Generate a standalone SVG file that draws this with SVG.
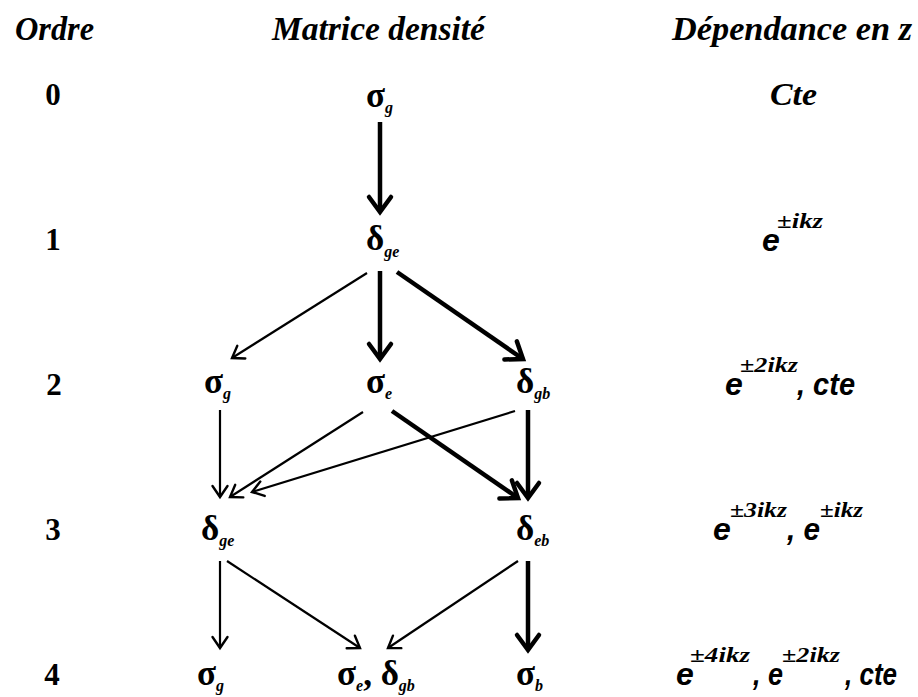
<svg xmlns="http://www.w3.org/2000/svg" width="918" height="697" viewBox="0 0 918 697">
<style>
.title{font-family:"Liberation Serif",serif;font-weight:bold;font-style:italic;font-size:34px;fill:#000}
.ord{font-family:"Liberation Serif",serif;font-weight:bold;font-size:31px;fill:#000}
.gr{font-family:"Liberation Serif",serif;font-weight:bold;font-size:35px;fill:#000}
.sub{font-style:italic;font-size:16px}
.ex{font-family:"Liberation Sans",sans-serif;font-weight:bold;font-style:italic;font-size:32px;fill:#000}
.cte{font-family:"Liberation Serif",serif;font-weight:bold;font-style:italic;font-size:32px;fill:#000}
.sup{font-family:"Liberation Serif",serif;font-weight:bold;font-style:italic;font-size:21px;fill:#000}
.thin{stroke:#000;stroke-width:2.2;fill:none;marker-end:url(#ah)}
.thick{stroke:#000;stroke-width:4.5;fill:none;marker-end:url(#ahb)}
</style>
<defs>
<marker id="ah" markerUnits="userSpaceOnUse" viewBox="-14 -10 16 20" refX="0" refY="0" markerWidth="16" markerHeight="20" orient="auto" overflow="visible"><path d="M-11,-7.5 L0,0 L-11,7.5" fill="none" stroke="#000" stroke-width="2.4" stroke-linecap="round"/></marker>
<marker id="ahb" markerUnits="userSpaceOnUse" viewBox="-18 -13 20 26" refX="0" refY="0" markerWidth="20" markerHeight="26" orient="auto" overflow="visible"><path d="M-15,-11 L0,0 L-15,11" fill="none" stroke="#000" stroke-width="4.5" stroke-linecap="round"/></marker>
</defs>
<rect width="918" height="697" fill="#fff"/>
<g id="headers">
<text class="title" x="15" y="40" textLength="79" lengthAdjust="spacingAndGlyphs">Ordre</text>
<text class="title" x="272" y="40" textLength="213" lengthAdjust="spacingAndGlyphs">Matrice densité</text>
<text class="title" x="672" y="40" textLength="240" lengthAdjust="spacingAndGlyphs">Dépendance en z</text>
</g>
<g id="orders" class="ord" text-anchor="middle">
<text x="53" y="105">0</text>
<text x="53" y="250">1</text>
<text x="54" y="395">2</text>
<text x="53" y="540">3</text>
<text x="52" y="685">4</text>
</g>
<g id="connectors">
<line class="thick" x1="380" y1="122" x2="380" y2="212"/>
<line class="thin" x1="367" y1="273" x2="232" y2="358"/>
<line class="thick" x1="380" y1="271" x2="380" y2="359"/>
<line class="thick" x1="397" y1="272" x2="523" y2="359"/>
<line class="thin" x1="220" y1="410" x2="220" y2="497"/>
<line class="thin" x1="363" y1="412" x2="230" y2="497"/>
<line class="thin" x1="515" y1="411" x2="252" y2="492"/>
<line class="thick" x1="392" y1="411" x2="518" y2="498"/>
<line class="thick" x1="528" y1="410" x2="528" y2="498"/>
<line class="thin" x1="220" y1="561" x2="220" y2="648"/>
<line class="thin" x1="227" y1="561" x2="360" y2="648"/>
<line class="thin" x1="518" y1="561" x2="388" y2="648"/>
<line class="thick" x1="528" y1="561" x2="528" y2="650"/>
</g>
<g id="n0"><text class="gr" x="366" y="107">σ<tspan class="sub" dy="6">g</tspan></text></g>
<g id="n1"><text class="gr" x="366" y="250">δ<tspan class="sub" dy="7">ge</tspan></text></g>
<g id="n2a"><text class="gr" x="204" y="393">σ<tspan class="sub" dy="6">g</tspan></text></g>
<g id="n2b"><text class="gr" x="366" y="393">σ<tspan class="sub" dy="6">e</tspan></text></g>
<g id="n2c"><text class="gr" x="516" y="393">δ<tspan class="sub" dy="6">gb</tspan></text></g>
<g id="n3a"><text class="gr" x="201" y="540">δ<tspan class="sub" dy="6">ge</tspan></text></g>
<g id="n3b"><text class="gr" x="516" y="540">δ<tspan class="sub" dy="6">eb</tspan></text></g>
<g id="n4a"><text class="gr" x="197" y="685">σ<tspan class="sub" dy="6">g</tspan></text></g>
<g id="n4b"><text class="gr" x="337" y="685">σ<tspan class="sub" dy="6">e</tspan><tspan dy="-6">, δ</tspan><tspan class="sub" dy="6">gb</tspan></text></g>
<g id="n4c"><text class="gr" x="516" y="685">σ<tspan class="sub" dy="6">b</tspan></text></g>
<g id="z0"><text class="cte" x="770" y="105" textLength="47" lengthAdjust="spacingAndGlyphs">Cte</text></g>
<g id="z1">
<text class="ex" x="762" y="251">e</text>
<text class="sup" x="777" y="228" textLength="46" lengthAdjust="spacingAndGlyphs">±ikz</text>
</g>
<g id="z2">
<text class="ex" x="725" y="395">e</text>
<text class="sup" x="740" y="372" textLength="58" lengthAdjust="spacingAndGlyphs">±2ikz</text>
<text class="ex" x="797" y="395" textLength="58" lengthAdjust="spacingAndGlyphs">, cte</text>
</g>
<g id="z3">
<text class="ex" x="713" y="540">e</text>
<text class="sup" x="730" y="517" textLength="57" lengthAdjust="spacingAndGlyphs">±3ikz</text>
<text class="ex" x="787" y="540" textLength="33" lengthAdjust="spacingAndGlyphs">, e</text>
<text class="sup" x="820" y="517" textLength="43" lengthAdjust="spacingAndGlyphs">±ikz</text>
</g>
<g id="z4">
<text class="ex" x="676" y="685">e</text>
<text class="sup" x="690" y="662" textLength="60" lengthAdjust="spacingAndGlyphs">±4ikz</text>
<text class="ex" x="753" y="685" textLength="30" lengthAdjust="spacingAndGlyphs">, e</text>
<text class="sup" x="782" y="662" textLength="58" lengthAdjust="spacingAndGlyphs">±2ikz</text>
<text class="ex" x="845" y="685" textLength="52" lengthAdjust="spacingAndGlyphs">, cte</text>
</g>
</svg>
